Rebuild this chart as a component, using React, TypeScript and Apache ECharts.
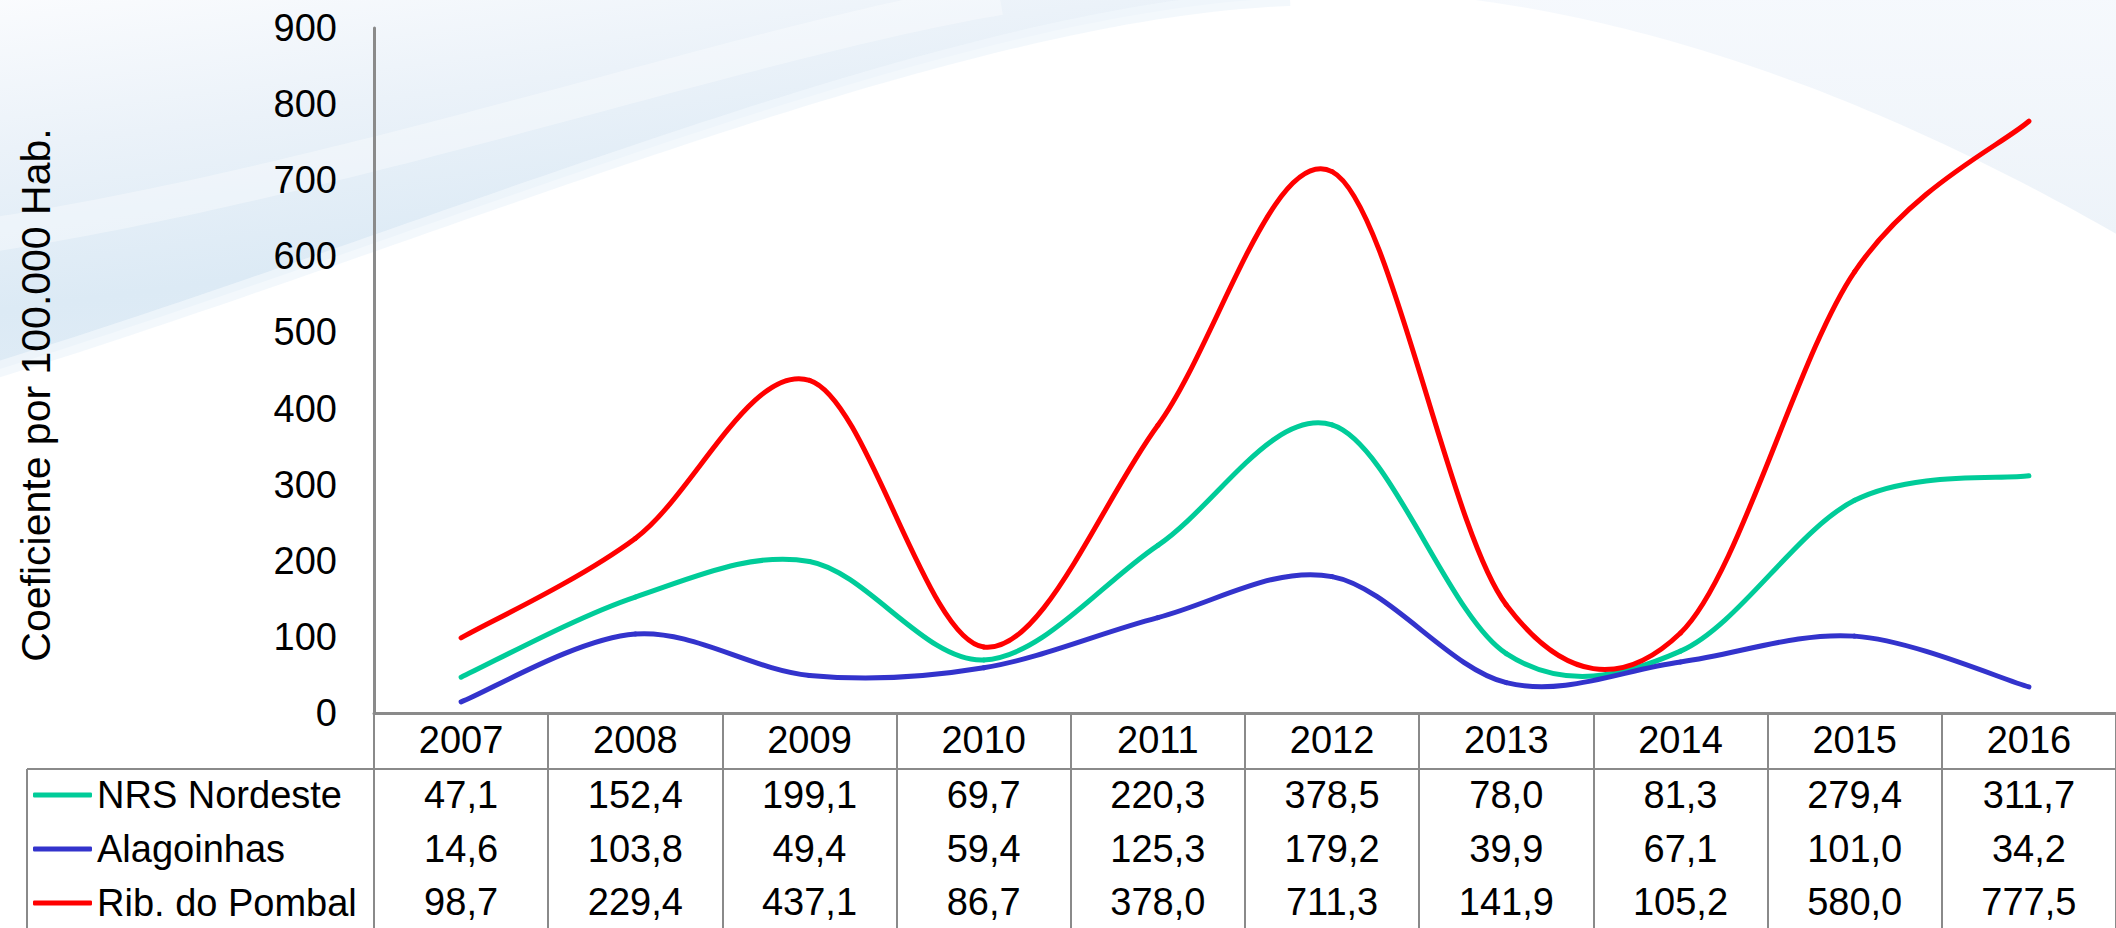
import React, { useEffect, useRef } from "react";
import * as echarts from "echarts";

const years = ["2007", "2008", "2009", "2010", "2011", "2012", "2013", "2014", "2015", "2016"];
const nrsNordeste = [47.1, 152.4, 199.1, 69.7, 220.3, 378.5, 78.0, 81.3, 279.4, 311.7];
const alagoinhas = [14.6, 103.8, 49.4, 59.4, 125.3, 179.2, 39.9, 67.1, 101.0, 34.2];
const ribPombal = [98.7, 229.4, 437.1, 86.7, 378.0, 711.3, 141.9, 105.2, 580.0, 777.5];
const seriesNames = ["NRS Nordeste", "Alagoinhas", "Rib. do Pombal"];
const seriesColors = ["#00CC99", "#3333CC", "#FF0000"];
const yTitle = "Coeficiente por 100.000 Hab.";

const FONT = "'Liberation Sans', Arial, sans-serif";
const fmt = (v: number) => v.toFixed(1).replace(".", ",");

function bezier(p0: number[], p1: number[], p2: number[], p3: number[], n: number) {
  const pts: number[][] = [];
  for (let i = 0; i <= n; i++) {
    const t = i / n;
    const a = (1 - t) ** 3, b = 3 * (1 - t) ** 2 * t, c = 3 * (1 - t) * t * t, d = t ** 3;
    pts.push([a * p0[0] + b * p1[0] + c * p2[0] + d * p3[0], a * p0[1] + b * p1[1] + c * p2[1] + d * p3[1]]);
  }
  return pts;
}

export default function App() {
  const ref = useRef<HTMLDivElement>(null);
  useEffect(() => {
    if (!ref.current) return;
    const chart = echarts.init(ref.current, null, { renderer: "svg" });
    const allSeries = [nrsNordeste, alagoinhas, ribPombal];
    const rowOffsets = [82, 136, 189];
    const grey = "#8a8a8a";

    // background swooshes (decoration)
    const leftOuter = bezier([1290, -2], [950, 10], [450, 230], [-10, 372], 80);
    const leftInner = bezier([1000, -2], [750, 40], [350, 180], [-10, 235], 80);
    const rightCurve = bezier([1460, -2], [1680, 25], [1900, 110], [2120, 236], 60);

    const bg: any[] = [
      {
        type: "polygon",
        z: -10,
        silent: true,
        shape: { points: [[-10, -10], [1290, -10], ...leftOuter] },
        style: {
          fill: new echarts.graphic.LinearGradient(0, 0, 0.45, 1, [
            { offset: 0, color: "#fbfcfe" },
            { offset: 0.35, color: "#ebf2f9" },
            { offset: 0.7, color: "#dceaf5" },
            { offset: 0.92, color: "#e0ecf6" },
            { offset: 1, color: "#eef4fa" },
          ]),
        },
      },
      {
        type: "polyline",
        z: -9,
        silent: true,
        shape: { points: leftInner },
        style: { stroke: "rgba(255,255,255,0.35)", lineWidth: 34, fill: null },
      },
      {
        type: "polyline",
        z: -9,
        silent: true,
        shape: { points: leftOuter },
        style: { stroke: "rgba(240,246,251,0.8)", lineWidth: 16, fill: null },
      },
      {
        type: "polygon",
        z: -10,
        silent: true,
        shape: { points: [[1460, -10], [2130, -10], [2130, 236], ...rightCurve.slice().reverse()] },
        style: {
          fill: new echarts.graphic.LinearGradient(0, 0, 0, 1, [
            { offset: 0, color: "#f6f9fd" },
            { offset: 1, color: "#edf3f9" },
          ]),
        },
      },
      {
        type: "text",
        x: 36,
        y: 395,
        rotation: Math.PI / 2,
        style: {
          text: yTitle,
          fontSize: 41,
          fontFamily: FONT,
          fill: "#000",
          align: "center",
          verticalAlign: "middle",
        },
      },
      {
        type: "line",
        shape: { x1: 27, y1: 769, x2: 2116, y2: 769 },
        style: { stroke: grey, lineWidth: 2 },
      },
      {
        type: "line",
        shape: { x1: 27, y1: 769, x2: 27, y2: 940 },
        style: { stroke: grey, lineWidth: 2 },
      },
    ];

    const rowAxes = allSeries.map((vals, i) => ({
      type: "category",
      data: years,
      gridIndex: 0,
      position: "bottom",
      offset: rowOffsets[i],
      axisLine: { show: false },
      axisTick: { show: false },
      axisLabel: {
        interval: 0,
        margin: 0,
        verticalAlign: "middle",
        fontSize: 38,
        fontFamily: FONT,
        color: "#000",
        formatter: (_v: string, idx: number) => fmt(vals[idx]),
      },
    }));

    // smooth (Catmull-Rom style) line drawn segment by segment through the axes
    const makeRender = (vals: number[], color: string) => (params: any, api: any) => {
      const i = params.dataIndex;
      const n = vals.length;
      if (i >= n - 1) return null;
      const P = (k: number) => {
        const kk = Math.max(0, Math.min(n - 1, k));
        return api.coord([kk, vals[kk]]);
      };
      const p0 = P(i - 1), p1 = P(i), p2 = P(i + 1), p3 = P(i + 2);
      const t = 1 / 6;
      return {
        type: "bezierCurve",
        shape: {
          x1: p1[0], y1: p1[1], x2: p2[0], y2: p2[1],
          cpx1: p1[0] + (p2[0] - p0[0]) * t,
          cpy1: p1[1] + (p2[1] - p0[1]) * t,
          cpx2: p2[0] - (p3[0] - p1[0]) * t,
          cpy2: p2[1] - (p3[1] - p1[1]) * t,
        },
        style: { stroke: color, lineWidth: 5, fill: null, lineCap: "round" },
      };
    };

    chart.setOption({
      animation: false,
      backgroundColor: "#ffffff",
      graphic: { elements: bg },
      grid: { left: 374, right: 0, top: 28, bottom: 215, containLabel: false },
      legend: {
        data: seriesNames,
        orient: "vertical",
        left: 33,
        top: 775,
        padding: 0,
        icon: "roundRect",
        itemWidth: 59,
        itemHeight: 5,
        itemGap: 14,
        selectedMode: false,
        textStyle: { fontSize: 38, fontFamily: FONT, color: "#000", lineHeight: 40 },
      },
      xAxis: [
        {
          type: "category",
          data: years,
          boundaryGap: true,
          axisLine: { show: true, lineStyle: { color: grey, width: 3 } },
          axisTick: { show: true, interval: 0, length: 220, lineStyle: { color: grey, width: 2 } },
          axisLabel: {
            interval: 0,
            margin: 27,
            verticalAlign: "middle",
            fontSize: 38,
            fontFamily: FONT,
            color: "#000",
          },
          splitLine: { show: false },
        },
        ...rowAxes,
      ],
      yAxis: {
        type: "value",
        min: 0,
        max: 900,
        interval: 100,
        axisLine: { show: true, lineStyle: { color: grey, width: 3 } },
        axisTick: { show: false },
        splitLine: { show: false },
        axisLabel: { margin: 37, fontSize: 38, fontFamily: FONT, color: "#000" },
      },
      series: allSeries.map((vals, i) => ({
        name: seriesNames[i],
        type: "custom",
        xAxisIndex: 0,
        yAxisIndex: 0,
        data: vals.map((v, k) => [k, v]),
        encode: { x: 0, y: 1 },
        itemStyle: { color: seriesColors[i] },
        renderItem: makeRender(vals, seriesColors[i]),
        clip: false,
      })),
    });
    return () => chart.dispose();
  }, []);
  return <div ref={ref} style={{ position: "absolute", left: 0, top: 0, width: 2116, height: 928 }} />;
}
